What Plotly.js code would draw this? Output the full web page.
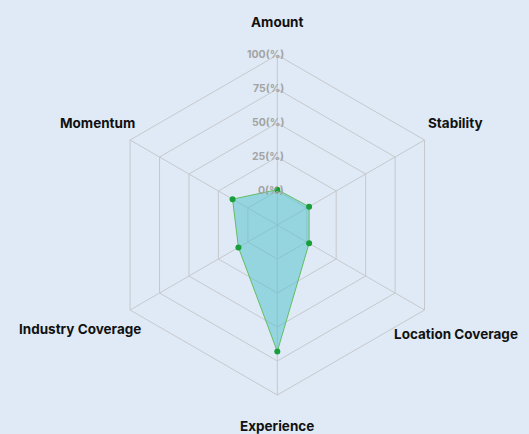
<!DOCTYPE html>
<html>
<head>
<meta charset="utf-8">
<script src="https://cdn.plot.ly/plotly-3.0.1.min.js"></script>
<style>
html,body{margin:0;padding:0;background:#dfeaf6;}
#chart{width:529px;height:434px;}
</style>
</head>
<body>
<div id="chart"></div>
<script>
// ---- data ----
var categories = ["Amount", "Stability", "Location Coverage", "Experience", "Industry Coverage", "Momentum"];
var values = [1, 2, 2, 68, 8, 13];
var radialTickVals = [0, 25, 50, 75, 100];
var radialTickText = ["0(%)", "25(%)", "50(%)", "75(%)", "100(%)"];

// ---- layout config ----
var W = 529, H = 434;
var CX = 277.3, CY = 225, R = 170, HOLE = 0.2;
var RMIN = -100 * HOLE / (1 - HOLE);
// label anchor positions (px) for category names
var labelPx = [[277, 22], [455.5, 123], [456, 334], [277, 426], [80, 329], [97, 123]];

var closedTheta = categories.concat([categories[0]]);
var closedR = values.concat([values[0]]);

var fillTrace = {
  type: 'scatterpolar',
  subplot: 'polar',
  r: closedR,
  theta: closedTheta,
  mode: 'lines',
  fill: 'toself',
  fillcolor: 'rgba(88,194,206,0.55)',
  line: {color: 'rgb(98,190,98)', width: 1},
  hoverinfo: 'skip'
};
var markerTrace = {
  type: 'scatterpolar',
  subplot: 'polar2',
  r: values,
  theta: categories,
  mode: 'markers',
  marker: {color: 'rgb(24,158,58)', size: 6},
  cliponaxis: false,
  hoverinfo: 'skip'
};

var annotations = [];
categories.forEach(function(c, i) {
  annotations.push({
    text: c, xref: 'paper', yref: 'paper',
    x: labelPx[i][0] / W, y: 1 - labelPx[i][1] / H,
    xanchor: 'center', yanchor: 'middle', showarrow: false,
    font: {family: 'Inter, Roboto, sans-serif', size: 13.5, color: '#111111', weight: 'bold'}
  });
});
radialTickVals.forEach(function(v, i) {
  var rad = R * (HOLE + (1 - HOLE) * v / 100);
  annotations.push({
    text: radialTickText[i], xref: 'paper', yref: 'paper',
    x: 286 / W, y: 1 - (CY - rad) / H,
    xanchor: 'right', yanchor: 'middle', showarrow: false,
    font: {family: 'Inter, Roboto, sans-serif', size: 10.5, color: '#a3a3a3', weight: 'bold'}
  });
});

var domain = {x: [(CX - R) / W, (CX + R) / W], y: [1 - (CY + R) / H, 1 - (CY - R) / H]};

var layout = {
  width: W, height: H,
  margin: {l: 0, r: 0, t: 0, b: 0},
  paper_bgcolor: '#dfeaf6',
  plot_bgcolor: '#dfeaf6',
  showlegend: false,
  polar: {
    domain: domain,
    bgcolor: 'rgba(0,0,0,0)',
    gridshape: 'linear',
    radialaxis: {
      range: [RMIN, 100], tickvals: radialTickVals, showticklabels: false,
      showline: false, ticks: '', gridcolor: '#c6c9cc', gridwidth: 1, layer: 'below traces'
    },
    angularaxis: {
      direction: 'clockwise', rotation: 90, showticklabels: false, ticks: '',
      categoryorder: 'array', categoryarray: categories,
      showline: true, linecolor: '#c6c9cc', linewidth: 1,
      gridcolor: '#c6c9cc', gridwidth: 1, layer: 'below traces'
    }
  },
  polar2: {
    domain: domain,
    bgcolor: 'rgba(0,0,0,0)',
    gridshape: 'linear',
    hole: HOLE,
    radialaxis: {
      range: [0, 100], showticklabels: false, showgrid: false,
      showline: false, ticks: ''
    },
    angularaxis: {
      direction: 'clockwise', rotation: 90, showticklabels: false, ticks: '',
      categoryorder: 'array', categoryarray: categories,
      showline: false, showgrid: false
    }
  },
  annotations: annotations
};

Plotly.newPlot('chart', [fillTrace, markerTrace], layout, {displayModeBar: false, staticPlot: true});
</script>
</body>
</html>
